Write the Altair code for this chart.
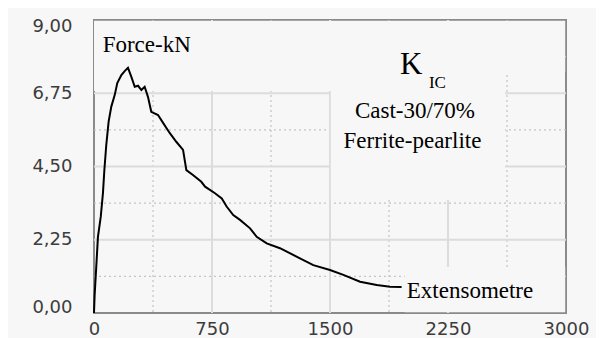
import altair as alt
import pandas as pd

# Curve (extension, force kN)
ext = [0, 4, 15, 25, 43, 57, 66, 78, 93, 110, 132, 148, 174, 195, 216, 237, 259, 280,
       301, 322, 343, 364, 407, 439, 481, 523, 566, 587, 629, 682, 706, 769, 812, 843,
       885, 928, 992, 1034, 1098, 1182, 1309, 1394, 1500, 1585, 1691, 1797, 1881, 1955]
force = [0.0, 0.55, 1.47, 2.34, 2.96, 3.69, 4.40, 5.16, 5.88, 6.34, 6.70, 7.06, 7.31, 7.43,
         7.53, 7.26, 6.95, 6.98, 6.85, 6.95, 6.64, 6.18, 6.08, 5.84, 5.53, 5.26, 5.01, 4.39,
         4.24, 4.03, 3.88, 3.68, 3.52, 3.27, 3.01, 2.86, 2.60, 2.34, 2.14, 1.99, 1.68, 1.47,
         1.32, 1.17, 0.96, 0.86, 0.81, 0.80]

x_ticks = [0, 750, 1500, 2250, 3000]
y_ticks = [0, 2.25, 4.5, 6.75, 9]
major_x = [750, 1500, 2250]
minor_x = [375, 1125, 1875, 2625]
major_y = [2.25, 4.5, 6.75]
minor_y = [1.125, 3.375, 5.625, 7.875]

# label boxes that hide the grid behind the texts
mask_x = [0, 1505, 1975, 2612]
mask_x2 = [1510, 2612, 2995, 2995]
mask_y = [6.82, 3.47, 0.02, 7.4]
mask_y2 = [8.98, 8.98, 1.41, 8.98]

BG = "#f7f7f7"
SERIF = "Liberation Serif"
xs = alt.Scale(domain=[0, 3000], nice=False, zero=False)
ys = alt.Scale(domain=[0, 9], nice=False, zero=False)

curve = pd.DataFrame({"x": ext, "y": force})

xaxis = alt.Axis(values=x_ticks, grid=False, ticks=False, domain=False, title=None,
                 labelFont="DejaVu Sans", labelFontSize=18, labelColor="#3c3c3c",
                 labelPadding=7, labelFlush=False, format="d")
yaxis = alt.Axis(values=y_ticks, grid=False, ticks=False, domain=False, title=None,
                 labelFont="DejaVu Sans", labelFontSize=18, labelColor="#3c3c3c",
                 labelPadding=22, labelFlush=True, labelFlushOffset=3,
                 labelExpr="replace(format(datum.value, '.2f'), '.', ',')")

def X(f):
    return alt.X(f, scale=xs, axis=xaxis)

def Y(f):
    return alt.Y(f, scale=ys, axis=yaxis)

gx_major = alt.Chart(pd.DataFrame({"x": major_x})).mark_rule(color="#dcdcdc", strokeWidth=2).encode(x=X("x:Q"))
gx_minor = alt.Chart(pd.DataFrame({"x": minor_x})).mark_rule(color="#c4c4c4", strokeWidth=1.2, strokeDash=[2, 3]).encode(x=X("x:Q"))
gy_major = alt.Chart(pd.DataFrame({"y": major_y})).mark_rule(color="#dcdcdc", strokeWidth=2).encode(y=Y("y:Q"))
gy_minor = alt.Chart(pd.DataFrame({"y": minor_y})).mark_rule(color="#c4c4c4", strokeWidth=1.2, strokeDash=[2, 3]).encode(y=Y("y:Q"))

masks = alt.Chart(pd.DataFrame({"x": mask_x, "x2": mask_x2, "y": mask_y, "y2": mask_y2})).mark_rect(
    color=BG).encode(x=X("x:Q"), x2="x2:Q", y=Y("y:Q"), y2="y2:Q")

line = alt.Chart(curve).mark_line(color="black", strokeWidth=2).encode(x=X("x:Q"), y=Y("y:Q"))

def label(txt, x, y, size, align="left"):
    return alt.Chart(pd.DataFrame({"t": [txt], "x": [x], "y": [y]})).mark_text(
        font=SERIF, fontSize=size, color="#000000", align=align,
        baseline="alphabetic").encode(x=X("x:Q"), y=Y("y:Q"), text="t:N")

texts = [
    label("Force-kN", 55, 8.01, 23),
    label("K", 1945, 7.34, 31),
    label("IC", 2129, 6.91, 17),
    label("Cast-30/70%", 2040, 5.98, 23, "center"),
    label("Ferrite-pearlite", 2024, 5.06, 23, "center"),
    label("Extensometre", 1988, 0.45, 23),
]

chart = alt.layer(gx_minor, gy_minor, gx_major, gy_major, masks, line, *texts).properties(
    width=472, height=293, background=BG,
    autosize=alt.AutoSizeParams(type="none"),
    padding={"left": 86, "top": 12, "right": 30, "bottom": 25},
).configure_view(stroke="#8a8a8a", strokeWidth=2)

chart.save("out.html", embed_options={"renderer": "svg", "actions": False})
